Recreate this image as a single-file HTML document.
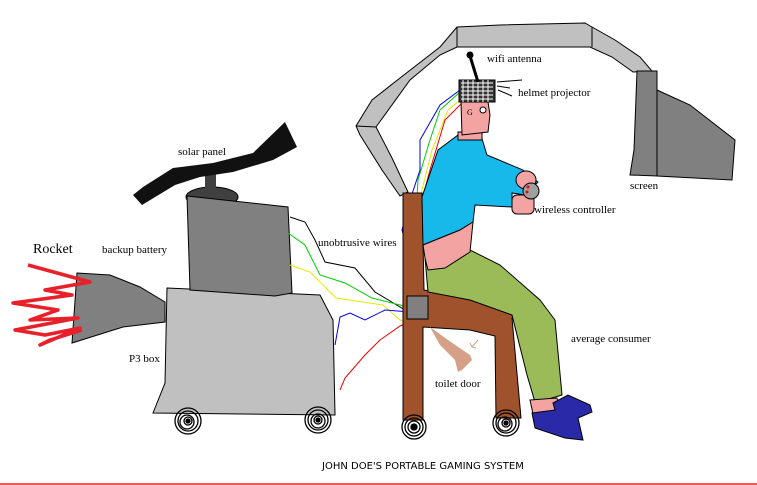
<!DOCTYPE html>
<html><head><meta charset="utf-8"><style>
html,body{margin:0;padding:0;background:#fff;}
svg{display:block;}
text{font-family:"Liberation Serif",serif;font-size:11px;fill:#000;}
</style></head><body>
<svg width="757" height="485" viewBox="0 0 757 485" xmlns="http://www.w3.org/2000/svg">
<!-- arch -->
<polygon points="356,126 372,100 400,78 440,47 457,27 500,25 585,23 592,27 615,40 640,57 652,71 633,72 612,57 590,47 457,47 440,55 410,80 376,127 392,158 408,192 400,196 382,170 360,135" fill="#c0c0c0" stroke="#000" stroke-width="1"/>
<line x1="457" y1="27" x2="457" y2="47" stroke="#000"/><line x1="592" y1="27" x2="592" y2="47" stroke="#000"/><line x1="356" y1="126" x2="376" y2="127" stroke="#000"/>
<!-- screen -->
<polygon points="657,90 690,105 735,140 732,180 657,176" fill="#808080" stroke="#000"/>
<polygon points="637,71 657,71 657,176 630,175 634,150" fill="#808080" stroke="#000"/>
<!-- P3 box -->
<polygon points="167,288 320,295 333,320 335,415 153,413 165,383" fill="#c0c0c0" stroke="#000"/>
<!-- rocket -->
<polygon points="77,273 110,275 140,287 165,302 165,322 123,327 72,343" fill="#808080" stroke="#000"/>
<polyline points="28,265 90,282 45,290 72,295 13,303 58,310 30,320 78,318 15,330 45,335 80,328 40,345 50,340 82,330" fill="none" stroke="#e8202a" stroke-width="3.5" stroke-linejoin="round"/>
<!-- battery -->
<ellipse cx="212" cy="197" rx="26" ry="10" fill="#404040" stroke="#000"/>
<rect x="205" y="172" width="11" height="22" fill="#404040"/>
<path d="M187,196 L288,207 L292,293 L275,296 L190,290 Z" fill="#808080" stroke="#000"/>
<!-- solar panel -->
<polygon points="133,195 143,187 173,168 213,163 253,153 285,122 297,147 273,160 233,172 200,177 175,185 142,205" fill="#111"/>
<!-- wires -->
<g fill="none" stroke-width="1">
<path d="M290,217 L305,222 L315,240 L325,262 L355,268 L375,292 L405,310" stroke="#000"/>
<path d="M288,233 L305,245 L320,275 L345,283 L372,298 L408,307 L412,310 L418,280 L410,250 L416,215 L418,180 L430,140 L440,110 L460,92" stroke="#00cc00"/>
<path d="M290,265 L310,272 L336,298 L383,305 L400,320 L415,323 L420,300 L412,270 L415,230 L422,190 L432,150 L448,110 L470,92" stroke="#e8e800"/>
<path d="M335,345 L340,317 L350,313 L365,320 L385,310 L410,312 L418,290 L410,260 L402,230 L410,200 L420,170 L420,140 L440,105 L460,90" stroke="#0000ee"/>
<path d="M340,390 L345,378 L365,355 L380,340 L400,326 L415,320 L420,290 L415,250 L418,215 L430,170 L445,120 L465,100" stroke="#ee0000"/>
</g>
<!-- chair -->
<polygon points="403,193 422,193 424,290 460,297 518,303 522,312 512,318 521,418 496,418 495,336 470,330 423,327 423,420 403,420" fill="#a0522d" stroke="#000"/>
<rect x="407" y="296" width="21" height="23" fill="#808080" stroke="#000"/>
<polygon points="430,327 448,340 470,355 472,360 462,370 458,372 455,360 440,345" fill="#d4a088"/>
<path d="M478,340 L472,347 M472,347 L470,343 M472,347 L476,348" stroke="#d4a088" fill="none"/>
<!-- pants -->
<polygon points="425,258 470,250 500,265 540,300 555,320 562,395 545,400 535,402 527,375 512,315 470,300 428,292" fill="#9bbb59" stroke="#000"/>
<!-- feet, shoes -->
<polygon points="530,400 557,398 560,410 533,414" fill="#f4a3a3" stroke="#000"/>
<polygon points="553,403 568,395 590,405 592,412 578,418 583,440 565,438 535,428 532,413 555,410" fill="#2a2aa8" stroke="#000"/>
<!-- shirt -->
<polygon points="438,150 458,135 480,132 487,155 523,170 538,182 525,195 512,193 512,207 475,205 473,222 460,230 423,245 422,197" fill="#17b8ea" stroke="#000"/>
<polygon points="423,245 460,230 473,222 470,252 445,268 428,270 425,258" fill="#f4a3a3" stroke="#000"/>
<!-- hands, controller -->
<ellipse cx="526" cy="180" rx="10" ry="9" fill="#f4a3a3" stroke="#000"/>
<rect x="512" y="195" width="22" height="19" rx="5" fill="#f4a3a3" stroke="#000"/>
<ellipse cx="531" cy="191" rx="8" ry="8" fill="#a0a0a0" stroke="#000"/>
<circle cx="528" cy="187" r="1.5" fill="red"/><circle cx="527" cy="192" r="1.5" fill="red"/>
<!-- head -->
<polygon points="458,132 482,132 482,140 458,140" fill="#f4a3a3" stroke="#000"/>
<path d="M461,102 L488,102 L490,115 L488,132 L462,135 Z" fill="#f4a3a3" stroke="#000"/>
<circle cx="483" cy="110" r="3" fill="#fff" stroke="#000"/>
<text x="467" y="115" style="font-size:8px">G</text>
<rect x="459" y="80" width="36" height="22" fill="#333" stroke="#000"/>
<path d="M461,83 L493,83 M461,87 L493,87 M461,91 L493,91 M461,95 L493,95 M461,99 L493,99 M463,80 L463,102 M468,80 L468,102 M473,80 L473,102 M478,80 L478,102 M483,80 L483,102 M488,80 L488,102" stroke="#fff" stroke-width="1"/>
<line x1="470" y1="56" x2="478" y2="82" stroke="#000" stroke-width="3"/>
<circle cx="470" cy="55" r="3.5" fill="#000"/>
<path d="M497,82 L522,80 M497,86 L510,88 M498,90 L512,96" stroke="#000"/>
<!-- wheels -->
<g fill="none" stroke="#000" stroke-width="1.3">
<circle cx="188" cy="421" r="13"/><circle cx="188" cy="421" r="10"/><circle cx="187" cy="422" r="7"/><circle cx="188" cy="421" r="4"/><circle cx="188" cy="421" r="2" fill="#000"/>
<circle cx="318" cy="420" r="13"/><circle cx="318" cy="420" r="10"/><circle cx="318" cy="421" r="7"/><circle cx="318" cy="420" r="4"/><circle cx="318" cy="420" r="2" fill="#000"/>
<circle cx="414" cy="427" r="12"/><circle cx="414" cy="427" r="9"/><circle cx="414" cy="427" r="6"/><circle cx="414" cy="427" r="3"/><circle cx="414" cy="427" r="2" fill="#000"/>
<circle cx="506" cy="423" r="13"/><circle cx="506" cy="423" r="10"/><circle cx="505" cy="424" r="7"/><circle cx="506" cy="423" r="4"/><circle cx="506" cy="423" r="2" fill="#000"/>
</g>
<!-- labels -->
<text x="178" y="155">solar panel</text>
<text x="33" y="253" style="font-size:14px">Rocket</text>
<text x="102" y="253">backup battery</text>
<text x="129" y="362">P3 box</text>
<text x="318" y="246">unobtrusive wires</text>
<text x="487" y="62">wifi antenna</text>
<text x="518" y="96">helmet projector</text>
<text x="534" y="213">wireless controller</text>
<text x="630" y="189">screen</text>
<text x="571" y="342">average consumer</text>
<text x="435" y="387">toilet door</text>
<text x="322" y="469" style="font-family:'DejaVu Sans',sans-serif;font-size:10px;">JOHN DOE'S PORTABLE GAMING SYSTEM</text>
<line x1="0" y1="484" x2="757" y2="484" stroke="#ee2020" stroke-width="1.5"/>
</svg>
</body></html>
